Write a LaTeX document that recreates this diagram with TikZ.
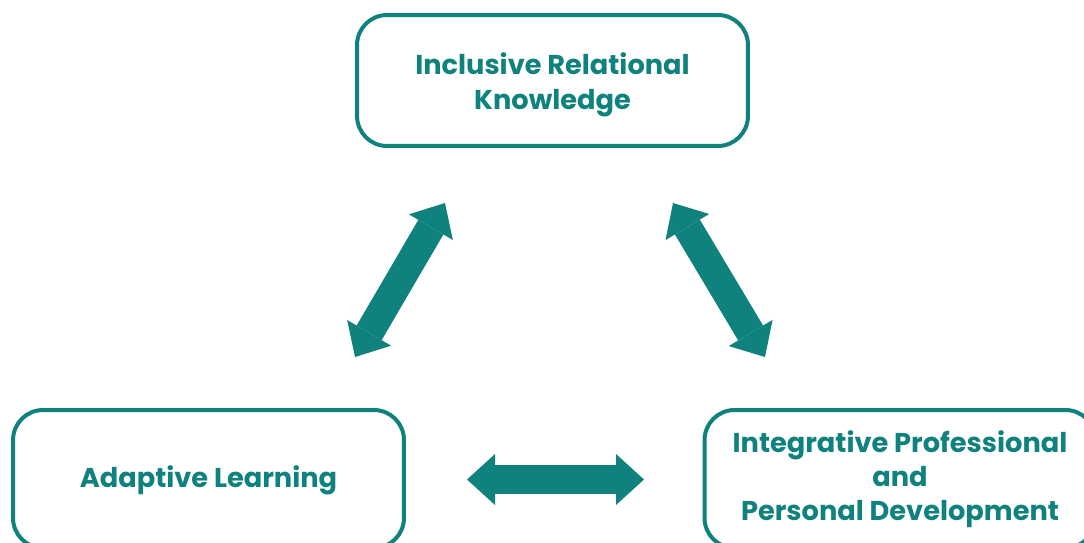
\documentclass[tikz,border=0pt]{standalone}
\usepackage{fontspec}
\setmainfont{Poppins}
\usetikzlibrary{arrows.meta}
\definecolor{tealbox}{HTML}{0F827E}
\tikzset{
  box/.style={draw=tealbox, line width=0.08cm, rounded corners=0.6cm,
    minimum width=7.82cm, minimum height=2.62cm, align=center,
    text=tealbox, font=\fontsize{15.5}{19.5}\selectfont\bfseries},
  twoway/.style={draw=tealbox, line width=0.58cm,
    {Triangle[length=0.56cm,width=1.02cm,line width=0pt]}-{Triangle[length=0.56cm,width=1.02cm,line width=0pt]}}
}
\begin{document}
\begin{tikzpicture}[x=0.02cm,y=-0.02cm]
\useasboundingbox (0,0) rectangle (1084,542);
\clip (0,0) rectangle (1084,542);
\node [box,text height=36.7pt] (know) at (552.5,80.5) {Inclusive Relational\\Knowledge};
\node [box,minimum height=2.76cm,text height=14.3pt] (adapt) at (208.5,479) {Adaptive Learning};
\node [box,minimum height=2.76cm] (integ) at (900,479) {Integrative Professional\\and\\Personal Development};
\coordinate (know-l) at (445,203);
\coordinate (adapt-t) at (355,357);
\coordinate (know-r) at (673,203);
\coordinate (integ-t) at (765,357);
\coordinate (adapt-r) at (467,479.5);
\coordinate (integ-l) at (644,479.5);
\draw [twoway] (know-l) -- (adapt-t);
\draw [twoway] (know-r) -- (integ-t);
\draw [twoway] (adapt-r) -- (integ-l);
\end{tikzpicture}
\end{document}
